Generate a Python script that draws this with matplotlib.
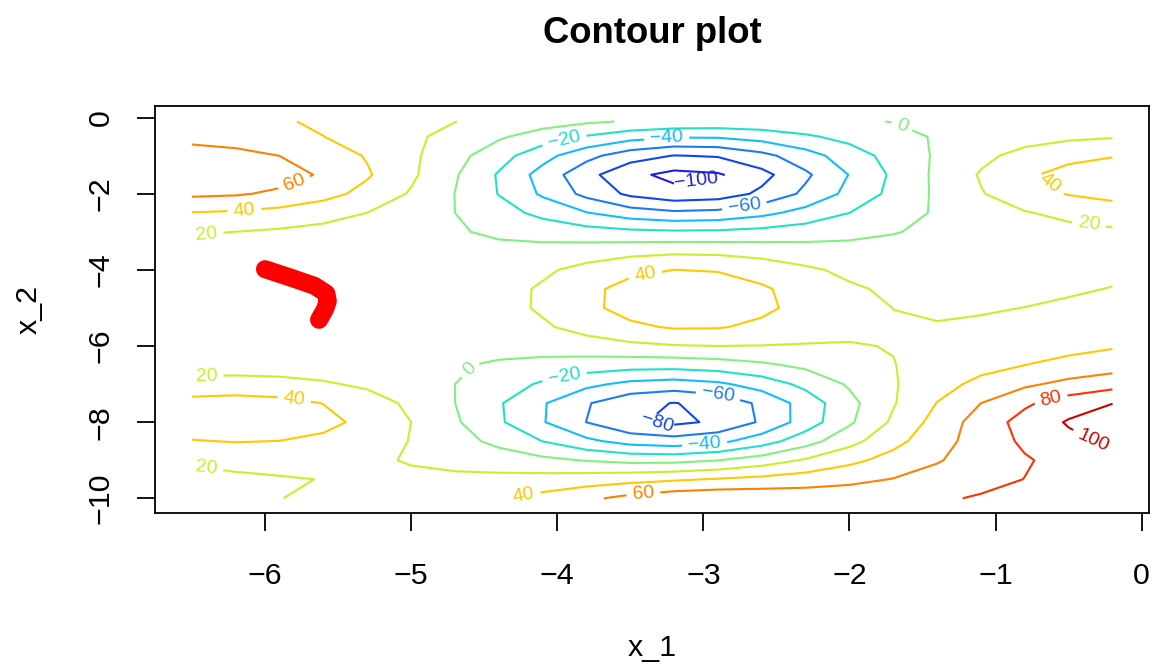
import matplotlib
matplotlib.use("Agg")
import matplotlib.pyplot as plt

plt.rcParams["font.family"] = ["Liberation Sans", "DejaVu Sans"]
plt.rcParams["contour.negative_linestyle"] = "solid"

# grid of the surface (x_1 across, x_2 down the rows)
X1 = [-6.5, -6.2, -5.9, -5.6, -5.3, -5.0, -4.7, -4.4, -4.1, -3.8, -3.5,
      -3.2, -2.9, -2.6, -2.3, -2.0, -1.7, -1.4, -1.1, -0.8, -0.5, -0.2]
X2 = [-10.0, -9.5, -9.0, -8.5, -8.0, -7.5, -7.0, -6.5, -6.0, -5.5, -5.0,
      -4.5, -4.0, -3.5, -3.0, -2.5, -2.0, -1.5, -1.0, -0.5, -0.1]
Z = [
    [15.3, 17.5, 19.8, 22.1, 24.8, 28.0, 32.2, 38.0, 46.1, 56.0, 66.1, 73.4, 76.0, 74.9, 72.9, 72.2, 73.8, 77.2, 82.0, 87.4, 93.1, 99.1],
    [15.3, 17.3, 18.9, 20.3, 21.4, 22.4, 23.5, 25.1, 27.3, 30.2, 33.7, 37.4, 41.3, 45.3, 49.7, 54.9, 60.7, 67.1, 73.7, 80.3, 86.7, 92.8],
    [22.3, 24.2, 24.8, 24.0, 22.0, 19.1, 15.2, 10.4, 4.7, -1.1, -5.4, -5.6, -0.4, 9.6, 22.1, 35.0, 47.2, 58.5, 68.8, 78.2, 86.5, 93.5],
    [38.8, 40.9, 39.7, 35.5, 28.5, 19.3, 7.9, -5.3, -20.2, -35.5, -47.6, -51.8, -45.2, -29.2, -8.2, 13.5, 33.9, 52.4, 68.9, 83.3, 95.0, 103.8],
    [53.4, 55.5, 52.8, 45.7, 34.5, 20.0, 2.7, -17.0, -38.6, -60.2, -77.4, -84.2, -76.9, -57.2, -30.8, -3.0, 23.4, 47.4, 68.9, 87.3, 101.9, 112.2],
    [47.1, 48.8, 46.2, 39.6, 29.3, 16.0, 0.1, -18.0, -38.1, -58.2, -74.3, -80.7, -74.0, -55.8, -31.4, -5.8, 18.5, 40.5, 60.0, 76.8, 90.1, 99.6],
    [26.4, 27.4, 26.0, 22.3, 16.5, 9.1, 0.0, -10.7, -22.7, -35.1, -45.1, -48.8, -43.7, -31.2, -14.6, 2.4, 18.3, 32.6, 45.3, 56.4, 65.5, 72.5],
    [10.9, 11.2, 10.7, 9.3, 7.2, 4.6, 1.5, -2.0, -5.8, -9.4, -12.0, -12.2, -9.2, -3.4, 4.1, 11.9, 19.5, 26.8, 33.7, 40.0, 45.7, 50.6],
    [4.7, 4.5, 4.3, 3.9, 3.5, 3.4, 3.8, 5.1, 7.7, 11.5, 15.7, 18.8, 19.9, 19.4, 18.7, 19.0, 20.6, 23.4, 26.8, 30.5, 34.3, 38.1],
    [3.5, 3.0, 2.7, 2.5, 2.8, 3.7, 6.0, 10.3, 17.4, 26.8, 36.2, 41.9, 41.4, 35.8, 28.8, 23.5, 21.0, 20.8, 22.3, 24.6, 27.5, 30.6],
    [4.3, 3.5, 2.9, 2.7, 3.0, 4.3, 7.3, 13.1, 22.6, 35.1, 47.3, 54.3, 52.8, 44.2, 33.4, 24.8, 19.9, 18.2, 18.6, 20.2, 22.4, 25.1],
    [6.1, 4.9, 4.1, 3.6, 3.6, 4.6, 7.4, 13.0, 22.4, 34.8, 47.0, 53.8, 51.9, 42.8, 31.5, 22.4, 17.1, 14.9, 15.0, 16.2, 18.2, 20.5],
    [8.6, 7.2, 6.0, 5.0, 4.4, 4.6, 6.2, 10.0, 16.7, 26.0, 35.1, 40.2, 38.6, 31.6, 23.0, 16.2, 12.3, 11.0, 11.4, 12.8, 14.6, 16.8],
    [13.0, 11.3, 9.6, 7.8, 6.1, 4.8, 4.1, 4.5, 6.4, 9.8, 13.4, 15.5, 14.9, 12.1, 8.8, 6.7, 6.1, 6.9, 8.5, 10.5, 12.7, 14.9],
    [21.7, 19.9, 17.3, 14.1, 10.4, 6.2, 1.7, -3.0, -7.7, -12.2, -15.7, -17.4, -16.8, -14.0, -10.0, -5.5, -0.9, 3.5, 7.6, 11.4, 14.7, 17.3],
    [39.3, 37.5, 33.6, 27.6, 19.9, 10.7, 0.0, -12.1, -25.5, -39.2, -50.7, -56.5, -54.4, -45.5, -33.0, -20.1, -8.2, 2.2, 11.3, 18.8, 24.7, 28.6],
    [63.8, 62.1, 56.4, 46.9, 33.9, 18.1, -0.2, -20.7, -43.0, -65.5, -84.1, -93.5, -90.3, -76.0, -55.7, -34.4, -14.5, 3.3, 18.8, 31.5, 41.1, 46.9],
    [77.0, 75.2, 68.6, 57.4, 42.1, 23.5, 2.0, -21.9, -47.7, -73.6, -94.9, -105.6, -102.2, -86.3, -63.5, -39.3, -16.5, 4.0, 21.8, 36.5, 47.4, 53.9],
    [68.2, 65.8, 59.9, 50.7, 38.5, 23.8, 6.8, -12.2, -32.9, -53.9, -71.5, -80.7, -78.4, -66.0, -48.4, -29.8, -12.7, 2.5, 15.5, 26.2, 34.1, 38.7],
    [54.3, 51.2, 46.5, 40.2, 32.6, 23.7, 13.8, 2.7, -9.3, -21.6, -32.1, -38.0, -37.7, -31.8, -23.0, -13.9, -5.6, 1.6, 7.7, 12.6, 16.3, 18.5],
    [49.7, 46.1, 41.9, 37.1, 31.8, 26.2, 20.3, 14.4, 8.5, 3.0, -1.7, -4.8, -6.1, -5.6, -4.0, -1.8, 0.4, 2.7, 4.8, 6.6, 8.0, 8.8],
]

LEVELS = [-100, -80, -60, -40, -20, 0, 20, 40, 60, 80, 100]
LEVEL_COLORS = ["#2020d8", "#1044f0", "#1a7cf5", "#10bcff", "#20e0c8", "#80f080",
                "#c8f02a", "#ffc800", "#ff8000", "#ff3000", "#d00000"]

# optimiser trace
PATH_X1 = [-6.00, -5.81, -5.66, -5.58, -5.57, -5.59, -5.63]
PATH_X2 = [-3.98, -4.22, -4.42, -4.62, -4.82, -5.04, -5.31]

# where each contour label sits
LABEL_SPOTS = {
    -100: [(-3.05, -1.6)],
    -80: [(-3.32, -8.05)],
    -60: [(-2.72, -2.3), (-2.9, -7.3)],
    -40: [(-3.25, -0.55), (-2.99, -8.6)],
    -20: [(-3.95, -0.6), (-3.95, -6.8)],
    0: [(-1.64, -0.2), (-4.6, -6.6)],
    20: [(-6.40, -3.03), (-6.40, -6.8), (-6.40, -9.17), (-0.36, -2.77)],
    40: [(-6.14, -2.43), (-3.40, -4.08), (-5.80, -7.41), (-0.6, -1.6), (-4.23, -9.9)],
    60: [(-5.79, -1.8), (-3.41, -9.9)],
    80: [(-0.62, -7.41)],
    100: [(-0.34, -8.52)],
}

W, H = 1152, 665
fig = plt.figure(figsize=(W / 100, H / 100), dpi=100)
ax = fig.add_axes([155.1 / W, 1 - 513.4 / H, 994.2 / W, 407.0 / H])

# R-style 4% padding around the data range
xr = X1[-1] - X1[0]
yr = X2[-1] - X2[0]
ax.set_xlim(X1[0] - 0.04 * xr, X1[-1] + 0.04 * xr)
ax.set_ylim(X2[0] - 0.04 * yr, X2[-1] + 0.04 * yr)


def fmt(v):
    return f"{v:.0f}".replace("-", "\u2212")


# one contour set per level so each gets its own hand-placed labels
for lev, col in zip(LEVELS, LEVEL_COLORS):
    cs = ax.contour(X1, X2, Z, levels=[lev], colors=[col], linewidths=1.5,
                    linestyles="solid")
    cs.clabel(manual=LABEL_SPOTS[lev], inline=True, inline_spacing=6,
              fontsize=14, fmt=fmt)

ax.plot(PATH_X1, PATH_X2, color="red", lw=13, solid_capstyle="round",
        solid_joinstyle="round")

ax.set_xlim(X1[0] - 0.04 * xr, X1[-1] + 0.04 * xr)
ax.set_ylim(X2[0] - 0.04 * yr, X2[-1] + 0.04 * yr)
ax.set_xticks([-6, -5, -4, -3, -2, -1, 0])
ax.set_yticks([-10, -8, -6, -4, -2, 0])
ax.tick_params(axis="both", direction="out", length=13.1, width=1.3,
               labelsize=21.9)
ax.tick_params(axis="x", pad=22.0)
ax.tick_params(axis="y", pad=16.2)
for lab in ax.get_yticklabels():
    lab.set_rotation(90)
    lab.set_va("center")
for sp in ax.spines.values():
    sp.set_linewidth(1.3)

fig.text(652 / W, 1 - 43 / H, "Contour plot", ha="center", va="baseline",
         fontsize=26.3, fontweight="bold")
fig.text(652 / W, 1 - 656 / H, "x_1", ha="center", va="baseline", fontsize=21.9)
fig.text(37 / W, 1 - 309.7 / H, "x_2", ha="center", va="baseline",
         rotation=90, rotation_mode="anchor", fontsize=21.9)

fig.savefig("out.png", dpi=100)
